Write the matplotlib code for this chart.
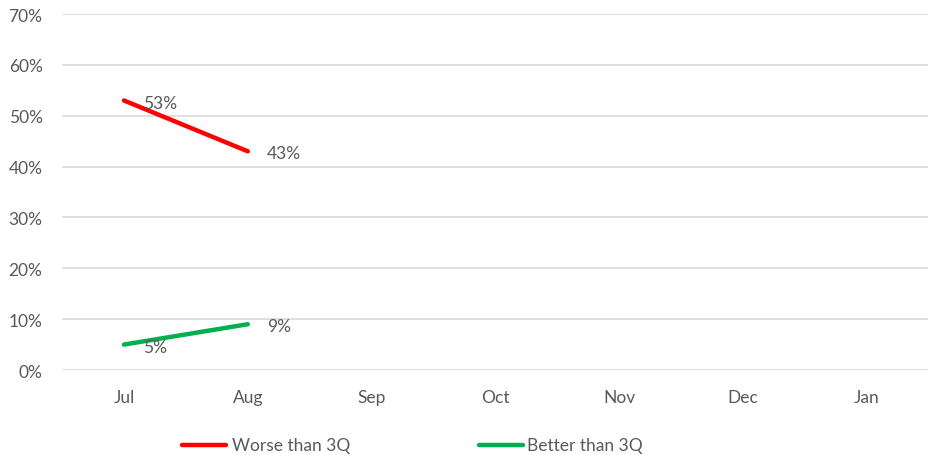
import matplotlib
matplotlib.use("Agg")
import matplotlib.pyplot as plt
from matplotlib.lines import Line2D

months = ["Jul", "Aug", "Sep", "Oct", "Nov", "Dec", "Jan"]
worse = [0.53, 0.43]
better = [0.05, 0.09]
worse_labels = ["53%", "43%"]
better_labels = ["5%", "9%"]
yticks = [0, 0.1, 0.2, 0.3, 0.4, 0.5, 0.6, 0.7]

plt.rcParams['font.family'] = ['Lato', 'DejaVu Sans']
txt = '#595959'
fs = 12.5
fig = plt.figure(figsize=(9.29, 4.56), dpi=100)
ax = fig.add_axes([62/929, 1-371/456, 1-62/929, (371-15)/456])

ax.set_xlim(-0.5, len(months)-0.5)
ax.set_ylim(0, 0.7)
ax.set_yticks(yticks)
ax.set_yticklabels([f"{int(round(v*100))}%" for v in yticks], color=txt, fontsize=fs)
ax.set_xticks(range(len(months)))
ax.set_xticklabels(months, color=txt, fontsize=fs)
ax.tick_params(length=0)
ax.tick_params(axis='y', pad=14)
ax.tick_params(axis='x', pad=14)
ax.yaxis.grid(True, color='#d9d9d9', linewidth=1.2)
ax.set_axisbelow(True)
for s in ax.spines.values():
    s.set_visible(False)

red = '#ff0000'
green = '#00b050'
ax.plot(list(range(len(worse))), worse, color=red, linewidth=3.2, solid_capstyle='round')
ax.plot(list(range(len(better))), better, color=green, linewidth=3.2, solid_capstyle='round')
for xi, v, l in zip(range(len(worse)), worse, worse_labels):
    ax.annotate(l, (xi, v), xytext=(14, -1.5), textcoords='offset points', va='center', ha='left', color=txt, fontsize=fs)
for xi, v, l in zip(range(len(better)), better, better_labels):
    ax.annotate(l, (xi, v), xytext=(14, -1.5), textcoords='offset points', va='center', ha='left', color=txt, fontsize=fs)

ly = 1-446/456
fig.add_artist(Line2D([182/929, 226/929], [ly]*2, color=red, linewidth=3.2, solid_capstyle='round'))
fig.text(232/929, ly, "Worse than 3Q", color=txt, fontsize=fs, va='center', ha='left')
fig.add_artist(Line2D([479/929, 523/929], [ly]*2, color=green, linewidth=3.2, solid_capstyle='round'))
fig.text(527/929, ly, "Better than 3Q", color=txt, fontsize=fs, va='center', ha='left')

fig.savefig("out.png", dpi=100)
